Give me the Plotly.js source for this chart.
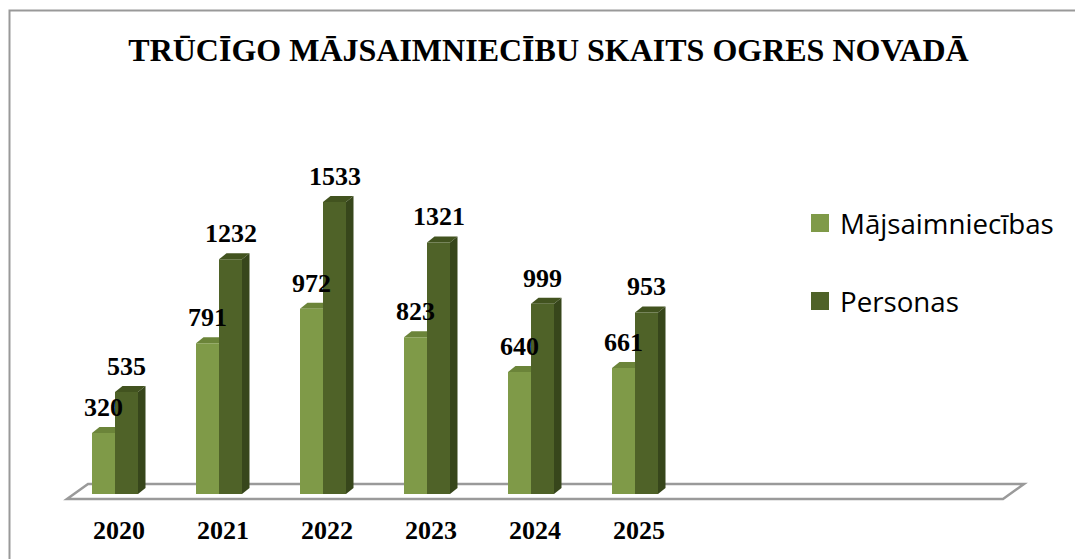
<!DOCTYPE html>
<html>
<head>
<meta charset="utf-8">
<script src="https://cdn.plot.ly/plotly-3.0.1.min.js"></script>
<style>html,body{margin:0;padding:0;background:#fff}#c{width:1075px;height:559px}</style>
</head>
<body>
<div id="c"></div>
<script>
const years = [2020, 2021, 2022, 2023, 2024, 2025];
const majsaimniecibas = [320, 791, 972, 823, 640, 661];
const personas = [535, 1232, 1533, 1321, 999, 953];
const seriesNames = ['Mājsaimniecības', 'Personas'];
const chartTitle = 'TRŪCĪGO MĀJSAIMNIECĪBU SKAITS OGRES NOVADĀ';

const colMajFront = '#7f9a48', colMajTop = '#6b8439', colPersFront = '#4f6228',
      colPersTop = '#42531f', colPersSide = '#37461b', floorLine = '#9a9a9a';

const W = 1075, H = 559;
const plotL = 60, plotR = 1030, plotT = 100, plotB = 510;
const pxCat = 104, pxVal = 292 / 1533, zeroPx = 494;

const xMin = 2019.5 - (67 - plotL) / pxCat;
const xMax = xMin + (plotR - plotL) / pxCat;
const yMin = -(plotB - zeroPx) / pxVal;
const yMax = (zeroPx - plotT) / pxVal;

const barW = 23 / pxCat, offA = -27 / pxCat, offB = -4 / pxCat;
const dx = 7.5 / pxCat, dy = 6 / pxVal;

function poly(pts, fill, layer) {
  return {type: 'path', xref: 'x', yref: 'y', layer: layer || 'below',
    path: 'M' + pts.map(p => p[0] + ',' + p[1]).join('L') + 'Z',
    fillcolor: fill, line: {width: 0}};
}

const shapes = [];
const floorFrontY = -5 / pxVal, floorBackY = 10 / pxVal, floorDx = 21 / pxCat;
shapes.push({type: 'path', xref: 'x', yref: 'y', layer: 'below',
  path: 'M2019.5,' + floorFrontY + 'L2028.5,' + floorFrontY + 'L' + (2028.5 + floorDx) + ',' + floorBackY +
        'L' + (2019.5 + floorDx) + ',' + floorBackY + 'Z',
  fillcolor: '#ffffff', line: {color: floorLine, width: 2.5}});

years.forEach((yr, i) => {
  const a0 = yr + offA, a1 = a0 + barW, b0 = yr + offB, b1 = b0 + barW;
  const va = majsaimniecibas[i], vb = personas[i];
  shapes.push(poly([[a0, va], [a0 + dx, va + dy], [a1 + dx, va + dy], [a1, va]], colMajTop));
  shapes.push(poly([[b0, vb], [b0 + dx, vb + dy], [b1 + dx, vb + dy], [b1, vb]], colPersTop));
  shapes.push(poly([[b1, 0], [b1 + dx, dy], [b1 + dx, vb + dy], [b1, vb]], colPersSide));
});

const bx = px => (px - plotL) / (plotR - plotL), by = px => (plotB - px) / (plotB - plotT);
shapes.push({type: 'path', xref: 'paper', yref: 'paper', layer: 'below',
  path: 'M' + bx(9.5) + ',' + by(559) + 'L' + bx(9.5) + ',' + by(10.5) + 'L' + bx(1075) + ',' + by(10.5),
  fillcolor: 'rgba(0,0,0,0)', line: {color: '#999999', width: 2}});

const labelFont = {family: 'Liberation Serif', size: 26, color: '#000000', weight: 700};
const annotations = [];
years.forEach((yr, i) => {
  [[majsaimniecibas[i], offA], [personas[i], offB]].forEach(([v, off]) => {
    annotations.push({x: yr + off + barW / 2, y: v, xref: 'x', yref: 'y', text: String(v),
      showarrow: false, xanchor: 'center', yanchor: 'bottom', yshift: 9, font: labelFont});
  });
});

const traces = [
  {type: 'bar', x: years, y: majsaimniecibas, width: barW, offset: offA, showlegend: false,
   marker: {color: colMajFront, line: {width: 0}}, hoverinfo: 'y'},
  {type: 'bar', x: years, y: personas, width: barW, offset: offB, showlegend: false,
   marker: {color: colPersFront, line: {width: 0}}, hoverinfo: 'y'},
  {type: 'scatter', mode: 'markers', x: [null], y: [null], name: seriesNames[0], legendgroup: 'a',
   marker: {symbol: 'square', size: 16, color: colMajFront, line: {color: colMajFront, width: 2}}},
  {type: 'scatter', mode: 'markers', x: [null], y: [null], name: seriesNames[1], legendgroup: 'b',
   marker: {symbol: 'square', size: 16, color: colPersFront, line: {color: colPersFront, width: 2}}}
];

const layout = {
  width: W, height: H, paper_bgcolor: '#ffffff', plot_bgcolor: 'rgba(0,0,0,0)',
  margin: {l: plotL, r: W - plotR, t: plotT, b: H - plotB, pad: 0},
  title: {text: chartTitle, x: 548.5 / W, xanchor: 'center', xref: 'container',
    y: 1 - 50 / H, yanchor: 'middle', yref: 'container',
    font: {family: 'Liberation Serif', size: 32, color: '#000000', weight: 700}},
  xaxis: {type: 'linear', range: [xMin, xMax], tickvals: years, ticktext: years.map(String),
    showgrid: false, zeroline: false, showline: false, ticks: '', ticklabelstandoff: 2,
    tickfont: labelFont, fixedrange: true},
  yaxis: {range: [yMin, yMax], visible: false, showgrid: false, zeroline: false, fixedrange: true},
  barmode: 'overlay',
  legend: {x: bx(800), xanchor: 'left', y: by(198.5), yanchor: 'top', orientation: 'v',
    font: {family: 'Open Sans', size: 27.7, color: '#000000'}, tracegroupgap: 39,
    bgcolor: 'rgba(0,0,0,0)', borderwidth: 0, itemwidth: 30, itemsizing: 'trace', traceorder: 'grouped'},
  shapes, annotations, showlegend: true
};
Plotly.newPlot('c', traces, layout, {displayModeBar: false, responsive: false});
</script>
</body>
</html>
